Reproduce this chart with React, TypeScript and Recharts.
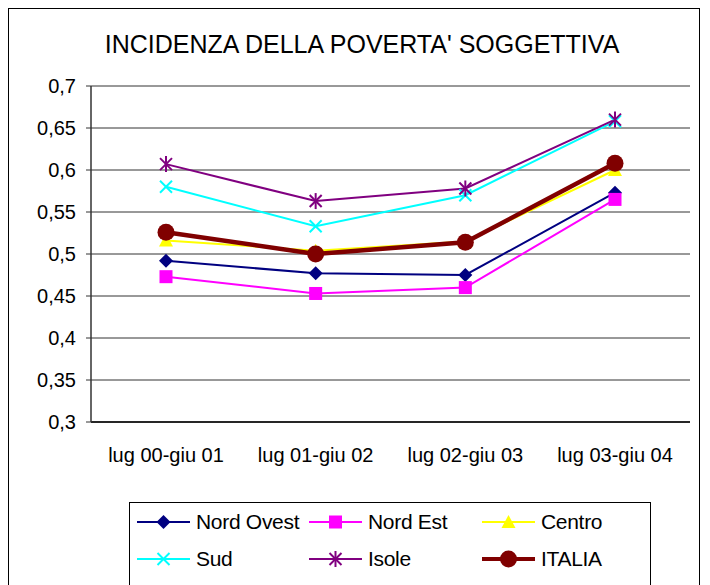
import React from "react";
import { LineChart, Line, XAxis, YAxis, CartesianGrid } from "recharts";

const periods = ["lug 00-giu 01", "lug 01-giu 02", "lug 02-giu 03", "lug 03-giu 04"];
const nordOvest = [0.492, 0.477, 0.475, 0.573];
const nordEst = [0.473, 0.453, 0.46, 0.565];
const centro = [0.516, 0.504, 0.515, 0.6];
const sud = [0.58, 0.533, 0.57, 0.658];
const isole = [0.607, 0.563, 0.578, 0.66];
const italia = [0.526, 0.5, 0.514, 0.608];
const yTicks = [0.3, 0.35, 0.4, 0.45, 0.5, 0.55, 0.6, 0.65, 0.7];

type MarkerKind = "diamond" | "square" | "triangle" | "cross" | "star" | "circle";

const SERIES: { key: string; name: string; color: string; width: number; marker: MarkerKind; values: number[] }[] = [
  { key: "no", name: "Nord Ovest", color: "#000080", width: 2, marker: "diamond", values: nordOvest },
  { key: "ne", name: "Nord Est", color: "#ff00ff", width: 2, marker: "square", values: nordEst },
  { key: "ce", name: "Centro", color: "#ffff00", width: 2, marker: "triangle", values: centro },
  { key: "su", name: "Sud", color: "#00ffff", width: 2, marker: "cross", values: sud },
  { key: "is", name: "Isole", color: "#800080", width: 2, marker: "star", values: isole },
  { key: "it", name: "ITALIA", color: "#800000", width: 4.5, marker: "circle", values: italia },
];

const data = periods.map((p, i) => {
  const row: Record<string, string | number> = { period: p };
  SERIES.forEach((s) => (row[s.key] = s.values[i]));
  return row;
});

const FONT = "'Liberation Sans', Arial, sans-serif";

function Marker({ cx, cy, kind, color }: { cx: number; cy: number; kind: MarkerKind; color: string }) {
  switch (kind) {
    case "diamond":
      return <polygon points={`${cx},${cy - 7} ${cx + 7},${cy} ${cx},${cy + 7} ${cx - 7},${cy}`} fill={color} />;
    case "square":
      return <rect x={cx - 6.5} y={cy - 6.5} width={13} height={13} fill={color} />;
    case "triangle":
      return <polygon points={`${cx},${cy - 7} ${cx + 7},${cy + 6} ${cx - 7},${cy + 6}`} fill={color} />;
    case "cross":
      return (
        <g stroke={color} strokeWidth={2}>
          <line x1={cx - 6} y1={cy - 6} x2={cx + 6} y2={cy + 6} />
          <line x1={cx - 6} y1={cy + 6} x2={cx + 6} y2={cy - 6} />
        </g>
      );
    case "star":
      return (
        <g stroke={color} strokeWidth={2}>
          <line x1={cx - 6} y1={cy - 6} x2={cx + 6} y2={cy + 6} />
          <line x1={cx - 6} y1={cy + 6} x2={cx + 6} y2={cy - 6} />
          <line x1={cx} y1={cy - 8} x2={cx} y2={cy + 8} />
        </g>
      );
    default:
      return <circle cx={cx} cy={cy} r={8.5} fill={color} />;
  }
}

function ChartLegend() {
  return (
    <div
      style={{
        position: "absolute",
        left: 120,
        top: 493,
        width: 522,
        height: 100,
        border: "1px solid #000",
        boxSizing: "border-box",
        display: "grid",
        gridTemplateColumns: "172px 173px 172px",
        gridAutoRows: "37px",
        paddingLeft: 7,
        fontFamily: FONT,
        fontSize: 21,
        background: "#fff",
      }}
    >
      {SERIES.map((s) => (
        <div key={s.key} style={{ display: "flex", alignItems: "center" }}>
          <svg width={53} height={20} style={{ flex: "none" }}>
            <line x1={0} y1={10} x2={53} y2={10} stroke={s.color} strokeWidth={s.width === 2 ? 2 : 4} />
            <Marker cx={26.5} cy={10} kind={s.marker} color={s.color} />
          </svg>
          <span style={{ marginLeft: 6, letterSpacing: -0.3 }}>{s.name}</span>
        </div>
      ))}
    </div>
  );
}

export default function App() {
  return (
    <div
      style={{
        position: "relative",
        width: 692,
        height: 600,
        border: "1px solid #000",
        boxSizing: "border-box",
        background: "#fff",
        fontFamily: FONT,
      }}
    >
      <div
        style={{
          position: "absolute",
          left: 0,
          top: 21,
          width: 706,
          textAlign: "center",
          fontSize: 25,
          lineHeight: "29px",
          color: "#000",
        }}
      >
        INCIDENZA DELLA POVERTA' SOGGETTIVA
      </div>
      <LineChart
        width={690}
        height={470}
        data={data}
        margin={{ top: 77, right: 9, left: 12, bottom: 7 }}
      >
        <CartesianGrid vertical={false} stroke="#333" />
        <XAxis
          dataKey="period"
          padding={{ left: 75, right: 75 }}
          axisLine={{ stroke: "#000", strokeWidth: 1.5 }}
          tickLine={false}
          tickSize={0}
          tickMargin={26}
          height={50}
          tick={{ fill: "#000", fontSize: 20, fontFamily: FONT }}
          interval={0}
        />
        <YAxis
          domain={[0.3, 0.7]}
          ticks={yTicks}
          width={70}
          axisLine={{ stroke: "#333", strokeWidth: 1.5 }}
          tickLine={{ stroke: "#333" }}
          tickSize={5}
          tickMargin={10}
          tick={{ fill: "#000", fontSize: 20, fontFamily: FONT }}
          tickFormatter={(v: number) => String(v).replace(".", ",")}
        />
        <YAxis
          yAxisId="frame"
          orientation="right"
          width={0}
          tick={false}
          tickLine={false}
          axisLine={{ stroke: "#888", strokeWidth: 1.5 }}
        />
        {SERIES.map((s) => (
          <Line
            key={s.key}
            dataKey={s.key}
            name={s.name}
            stroke={s.color}
            strokeWidth={s.width}
            isAnimationActive={false}
            dot={(p: any) => <Marker key={`${s.key}-${p.index}`} cx={p.cx} cy={p.cy} kind={s.marker} color={s.color} />}
            activeDot={false}
          />
        ))}
      </LineChart>
      <ChartLegend />
    </div>
  );
}
